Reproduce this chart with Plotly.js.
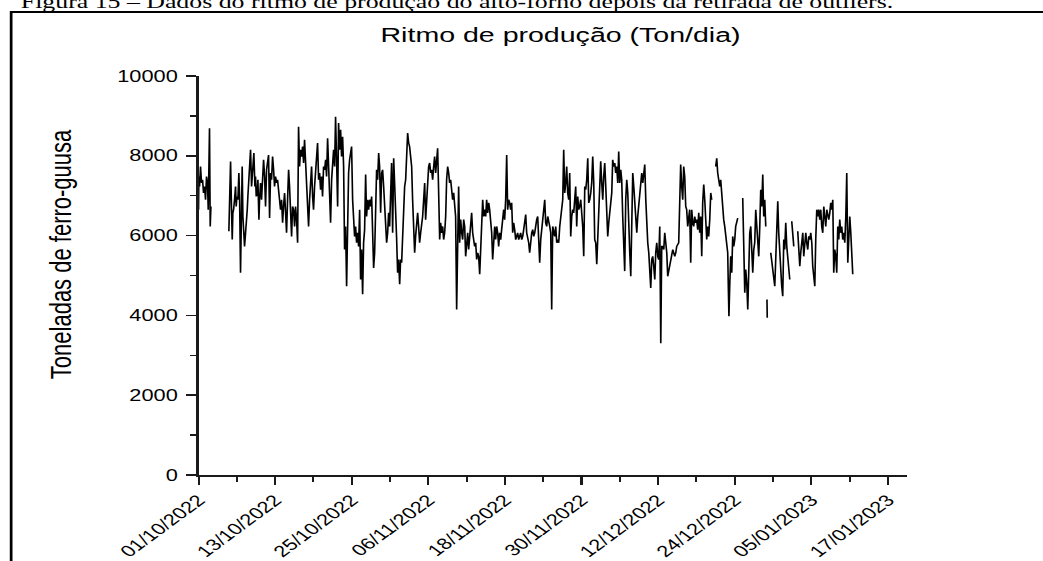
<!DOCTYPE html>
<html>
<head>
<meta charset="utf-8">
<script src="https://cdn.plot.ly/plotly-3.0.1.min.js"></script>
<style>
  html, body { margin:0; padding:0; background:#fff; overflow:hidden; width:1043px; height:561px; }
  #chart { width:767px; height:561px; transform-origin:0 0; }
</style>
</head>
<body>
<div id="chart"></div>
<script>
// Days elapsed since 01/10/2022 00:00 for each reading
const dayOffset = [
0.00,0.05,0.16,0.31,0.47,0.63,0.78,0.94,1.10,1.25,1.41,1.52,1.57,1.72,1.83,1.94,
3.30,
4.75,4.86,5.02,5.17,5.28,5.38,5.49,5.64,5.80,5.90,6.01,6.17,6.32,6.43,6.58,6.74,6.84,6.95,7.11,7.21,7.37,7.47,7.63,7.73,7.89,8.00,8.15,8.31,8.41,8.52,8.67,8.83,8.93,9.04,9.20,9.30,9.46,9.56,
9.72,9.87,10.03,10.19,10.35,10.50,10.66,10.82,10.97,11.13,11.29,11.44,11.60,11.76,11.91,12.07,12.23,12.38,12.54,12.70,
12.85,13.01,13.17,13.32,13.48,13.64,13.79,13.95,14.11,14.26,14.42,14.58,14.73,14.89,15.05,15.20,15.36,15.52,
15.67,15.83,15.99,16.14,16.30,16.46,16.61,16.77,16.93,17.08,17.24,17.40,17.55,17.71,17.87,18.02,18.18,18.34,18.50,18.65,18.81,18.97,19.12,19.28,19.43,19.59,19.75,19.91,20.06,20.22,20.38,20.53,
20.69,20.85,21.00,21.16,21.32,21.47,21.63,21.79,21.94,22.10,22.26,22.41,22.57,22.73,
22.88,23.04,23.20,23.35,23.51,23.67,23.82,23.98,24.14,24.29,24.45,24.61,24.76,24.92,25.08,
25.24,25.39,25.55,25.71,25.86,26.02,26.18,26.33,26.49,26.65,26.80,26.96,27.12,27.27,27.43,27.59,27.74,27.90,28.06,28.22,28.37,28.53,28.69,28.84,29.00,29.16,29.31,29.47,29.63,29.78,29.94,
30.10,30.25,30.41,30.57,30.72,30.88,31.04,31.19,31.35,31.51,31.66,31.82,31.98,32.13,32.29,32.45,32.60,32.76,32.92,33.07,33.23,33.39,33.54,33.70,33.86,34.01,34.17,34.33,34.48,34.64,34.80,34.96,
35.11,35.27,35.43,35.58,35.74,35.90,36.05,36.21,36.37,36.52,36.68,36.84,36.99,37.15,37.31,37.46,37.62,37.78,37.93,38.09,38.25,38.40,38.56,38.72,38.87,39.03,39.19,39.34,39.50,39.66,39.81,39.97,
40.13,40.28,40.44,40.60,40.75,40.91,41.07,41.23,41.38,41.54,41.70,41.85,42.01,42.17,42.32,42.48,42.64,42.79,42.95,43.11,43.26,43.42,43.58,43.73,43.89,44.05,44.20,44.36,44.52,44.67,44.83,44.99,
45.14,45.30,45.46,45.61,45.77,45.93,46.08,46.24,46.40,46.55,46.71,46.87,47.02,47.18,47.34,47.49,47.65,47.81,47.96,48.12,48.28,48.43,48.59,48.75,48.90,49.06,49.22,49.37,49.53,49.69,49.84,50.00,
50.16,50.32,50.47,50.63,50.79,50.94,51.10,51.26,51.41,51.73,51.88,52.04,52.20,52.36,52.51,52.67,52.83,52.98,53.14,53.30,53.45,53.61,53.77,53.92,54.08,54.24,54.39,54.55,54.71,54.86,
55.02,55.18,55.33,55.49,55.65,55.80,55.96,56.12,56.27,56.43,56.59,56.74,56.90,57.06,57.21,57.37,57.53,57.68,57.84,58.00,58.15,58.31,58.47,58.62,58.78,58.94,59.09,59.25,59.41,59.56,59.72,59.88,
60.04,60.19,60.35,60.51,60.66,60.82,60.98,61.13,61.29,61.45,61.60,61.76,61.92,62.07,62.23,62.39,62.54,62.70,62.86,63.01,63.17,63.33,63.48,63.64,63.80,63.95,64.11,64.27,64.42,64.58,64.74,64.89,
65.05,65.21,65.36,65.52,65.68,65.83,65.99,66.15,66.30,66.46,66.62,66.77,66.93,67.09,67.25,67.40,67.56,67.72,67.87,68.03,68.19,68.34,68.50,68.66,68.81,68.97,69.13,69.28,69.44,69.60,69.75,69.91,
70.07,70.22,70.38,70.54,70.69,70.85,71.01,71.16,71.32,71.48,71.63,71.79,71.95,72.10,72.26,72.42,72.57,72.73,72.89,73.04,73.20,73.36,73.51,73.67,73.83,73.98,74.14,74.30,74.45,74.61,74.77,74.92,
75.23,75.39,75.54,75.70,75.86,76.01,76.17,76.33,76.48,76.64,76.80,76.95,77.11,77.27,77.43,77.58,77.74,77.90,78.05,78.21,78.37,78.52,78.68,78.84,78.99,79.15,79.31,79.46,79.62,79.78,79.93,80.09,80.25,80.40,
80.70,
81.03,81.19,81.34,81.50,81.66,81.81,81.97,82.13,82.28,82.44,82.60,82.75,82.91,83.00,83.10,83.22,83.38,83.54,83.69,83.85,84.01,84.16,84.32,84.48,
84.80,
85.26,85.42,85.58,85.73,85.89,86.05,86.20,86.36,86.52,86.67,86.83,86.99,87.14,87.30,87.46,87.61,87.77,87.93,88.08,88.24,88.40,88.55,88.71,88.87,
88.97,
89.06,89.10,
89.40,
89.65,89.81,89.96,90.28,90.43,90.59,90.75,90.90,91.06,91.22,91.37,91.53,91.69,91.84,92.00,92.16,92.32,92.47,92.63,
92.80,
92.94,93.10,93.26,
93.60,
93.88,94.04,94.20,94.35,94.51,94.67,94.82,94.98,95.14,95.29,95.45,95.61,95.76,95.92,96.08,96.23,96.39,96.55,96.70,96.86,97.02,97.17,97.33,97.49,97.64,97.80,97.96,98.11,98.27,98.43,98.58,98.74,98.90,
99.05,99.21,99.37,99.52,99.68,99.84,99.99,100.15,100.31,100.46,100.62,100.78,100.93,101.09,101.25,101.41,101.56,101.72,101.88,102.03,102.19,102.35,102.50
];
// Tonnes of pig iron per day (null = no data)
const tonPerDay = [
6650,7480,7230,7730,7320,7400,7070,7230,6900,7480,7320,6650,8150,8690,6230,6730,
null,
6110,7150,7860,6650,5900,6570,6650,6900,7230,6730,6980,6900,7570,6980,5070,6730,7730,6480,5900,5730,6070,6230,6650,6980,7320,7730,8150,7230,7570,7730,8070,7230,7480,6980,7070,7400,6400,6900,
7320,6900,7730,7900,7480,6730,7650,7820,8020,6440,7570,7400,7980,7650,7230,7480,7320,7400,7150,6900,
6650,6900,6320,6730,7070,6570,6070,6900,7650,7230,6570,5980,6730,6650,6230,6730,6400,5820,
8730,7730,8150,7980,8230,7820,8400,7900,7650,7070,6230,6900,7320,7730,6980,6650,7230,7570,7730,8320,7400,7570,7150,7480,6980,7730,7650,7900,7480,8440,7730,7230,
6320,7400,7900,8150,7730,8980,7900,6730,8820,8150,8650,7980,8480,7730,
5650,6230,4730,6900,7570,7900,8070,8230,6900,6480,5980,6230,5820,6070,5730,
6650,4900,5650,4530,5820,6150,7530,6480,6900,6650,6900,6730,6980,5650,5190,5570,6480,7650,7400,8070,7730,6570,7570,7650,7230,6650,6070,5820,6070,6570,6230,
6900,7820,6070,7940,7320,6820,5900,5070,5400,4780,5400,5320,6070,6570,7230,7400,7900,8570,8320,8230,7980,7730,6900,6230,5570,5980,6400,6570,6230,5820,6070,6230,
6480,6900,7320,6400,6900,7480,7730,7820,7570,7650,7400,7730,7980,7570,7820,8190,7070,5900,6320,6070,6230,5900,6070,6480,7400,7730,7570,7320,7400,7150,6900,7070,
6730,6480,4150,5900,7230,5820,6400,6070,5900,6400,6230,5480,5730,6070,5650,6070,6230,6570,6070,5900,5730,5820,5400,5570,5480,5030,5570,5900,6900,6480,6650,6480,
6900,6570,6820,6650,6320,6070,5400,6070,6230,5900,6230,6070,5730,6070,5900,6150,6480,6650,6400,6900,8020,6650,6900,6820,6650,6820,6070,6320,6150,5900,5980,6070,
5900,5980,6070,5900,5980,6150,6320,6530,6070,5820,5570,5900,6070,6150,5980,6070,6320,6400,6480,5400,5320,5900,6150,6230,6480,6900,6320,6230,6480,6400,
6230,6070,4150,6230,6070,5980,6230,5820,5900,5820,6230,6400,6570,6900,8150,7070,7320,7730,7070,6900,7570,5980,6480,6650,6570,6900,7230,6230,6980,6650,6730,6900,
6570,6230,5480,7230,7150,7400,7940,6820,6900,7070,7320,7980,7320,5900,5820,5280,6070,6900,7570,7860,7320,6900,7480,7820,7230,6650,5980,6320,6650,6900,7070,7900,
7730,7820,7570,7730,7320,8110,7320,7650,7400,6480,5900,5110,6900,7400,7070,5900,5570,4980,6900,7570,7230,6820,6230,6070,6480,6730,6900,7230,7570,7320,7480,7780,
6900,6230,5820,5570,5230,4690,5400,5480,5230,4900,5570,5820,5480,5400,6230,3300,5730,5730,5650,6070,5820,5570,4980,5150,5230,5400,5480,5650,5570,5480,5570,5730,
5820,7730,7780,7230,6900,7730,7480,6730,6650,6230,6570,6650,5320,6650,6320,6230,6480,6320,6400,6150,6570,6070,6480,5480,6820,7280,6900,6070,5900,6230,5980,6400,7070,6900,
null,
7730,7940,7570,7320,7230,7400,6980,6650,6400,6230,5980,5730,5570,4730,3980,4730,5480,5070,5980,5730,5900,6230,6320,6440,
null,
6940,5400,4570,5150,4820,4150,5400,6070,6230,5820,5070,5650,5820,6650,6230,5900,5480,6230,7150,6730,7530,6480,6900,6230,
null,
4400,3940,
null,
5570,5320,5150,4730,5400,5900,6860,6070,5400,4900,4730,4480,5900,5650,6320,5730,5400,5150,4900,
null,
6360,5900,5730,
null,
6110,5650,5230,5570,5900,6070,5480,5730,6070,5820,5650,5980,5900,6070,5820,5230,4900,4730,5900,6650,6480,6650,6400,6650,6230,6070,6730,6400,6230,6650,6480,6400,6570,
6820,6650,6900,5070,5650,5480,5070,6230,5900,6400,6070,6230,5900,6070,5820,6480,7570,5320,6070,6480,6070,5570,5030
];
const yTickVals = [0, 2000, 4000, 6000, 8000, 10000];
const xRange = ['2022-10-01', '2023-01-20'];
const chartTitle = 'Ritmo de produção (Ton/dia)';
const yTitle = 'Toneladas de ferro-guusa';
const captionText = 'Figura 15 – Dados do ritmo de produção do alto-forno depois da retirada de outliers.';

const DAY = 86400000;
const origin = Date.UTC(2022, 9, 1);
function toDateStr(d) {
  return new Date(origin + d * DAY).toISOString().slice(0, 19).replace('T', ' ');
}
const xDates = dayOffset.map(toDateStr);

const W = 767, H = 561, S = 1043 / W;
document.getElementById('chart').style.transform = 'scaleX(' + S + ')';

const sans = 'Liberation Sans, Arial, sans-serif';
const axisCol = '#1a1a1a';

const trace = {
  type: 'scatter', mode: 'lines',
  x: xDates, y: tonPerDay,
  line: { color: '#000', width: 1.2 },
  connectgaps: false,
  hoverinfo: 'skip'
};

const layout = {
  width: W, height: H,
  margin: { l: 146.3, r: 100.1, t: 76, b: 86, pad: 0 },
  paper_bgcolor: '#fff', plot_bgcolor: '#fff',
  showlegend: false,
  font: { family: sans, color: '#000', size: 16 },
  title: {
    text: chartTitle,
    font: { family: sans, size: 21, color: '#000' },
    xref: 'paper', x: 0.511, xanchor: 'center',
    yref: 'container', y: 1 - 35 / H, yanchor: 'middle'
  },
  xaxis: {
    type: 'date', range: xRange,
    tick0: '2022-10-01', dtick: 12 * DAY, tickformat: '%d/%m/%Y',
    tickangle: -45, ticks: 'outside', ticklen: 8, tickwidth: 1.5, tickcolor: axisCol,
    showline: true, linecolor: axisCol, linewidth: 1.5,
    showgrid: false, zeroline: false,
    tickfont: { family: sans, size: 16, color: '#000' },
    minor: { ticks: 'outside', ticklen: 5, tickwidth: 1.5, tickcolor: axisCol, tick0: '2022-10-01', dtick: 6 * DAY, showgrid: false },
    fixedrange: true
  },
  yaxis: {
    range: [0, 10000], tickvals: yTickVals, ticktext: yTickVals.map(String),
    ticks: 'outside', ticklen: 7.6, tickwidth: 1.5, tickcolor: axisCol,
    showline: true, linecolor: axisCol, linewidth: 1.5,
    showgrid: false, zeroline: false,
    tickfont: { family: sans, size: 16, color: '#000' },
    minor: { ticks: 'outside', ticklen: 4.5, tickwidth: 1.5, tickcolor: axisCol, dtick: 1000, showgrid: false },
    ticklabelstandoff: 3,
    fixedrange: true
  },
  shapes: [{
    type: 'rect', xref: 'paper', yref: 'paper',
    x0: -0.2645, x1: 1.3, y0: -0.35, y1: 1.1604,
    line: { color: '#000', width: 2 }, fillcolor: 'rgba(0,0,0,0)', layer: 'above'
  }],
  annotations: [
    {
      text: yTitle, textangle: -90, showarrow: false,
      xref: 'paper', yref: 'paper', x: -0.1934, y: 0.554,
      xanchor: 'center', yanchor: 'middle',
      font: { family: sans, size: 22, color: '#000' }
    },
    {
      text: captionText, showarrow: false,
      xref: 'paper', yref: 'paper', x: -0.2557, y: 1.1865,
      xanchor: 'left', yanchor: 'middle',
      font: { family: 'Liberation Serif, Times New Roman, serif', size: 19, color: '#000' }
    }
  ]
};

Plotly.newPlot('chart', [trace], layout, { staticPlot: true, displayModeBar: false });
</script>
</body>
</html>
